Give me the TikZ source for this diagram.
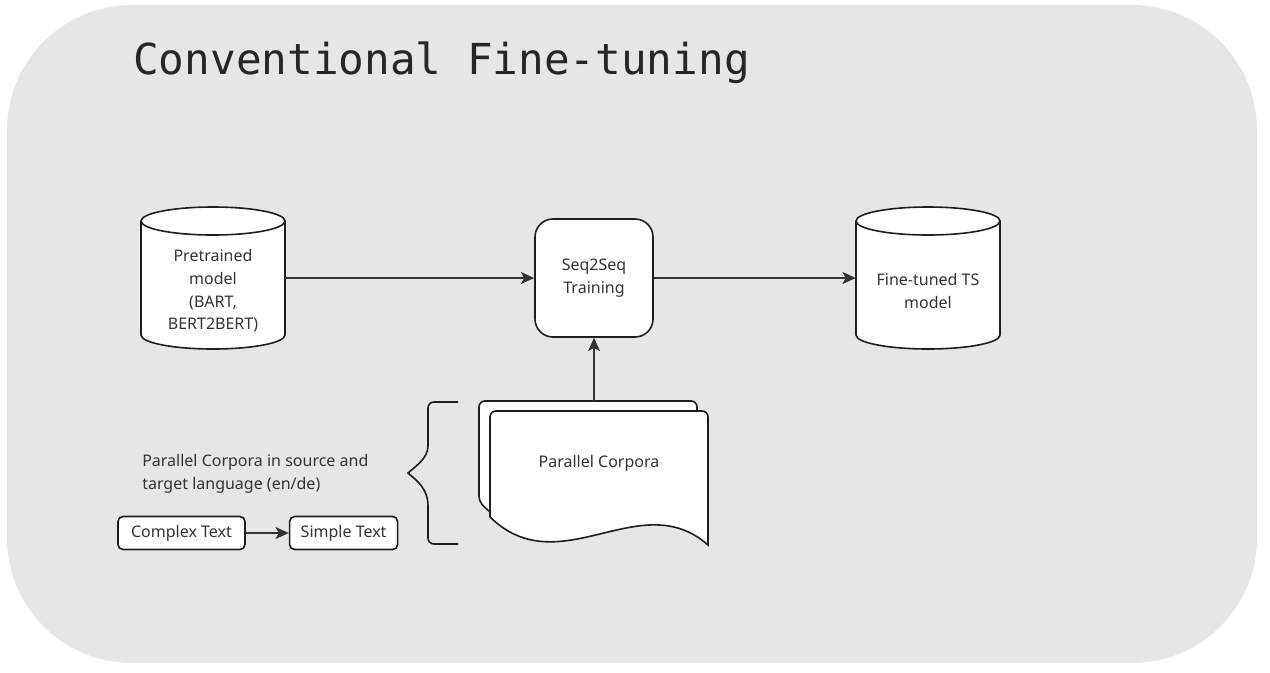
\documentclass[tikz,border=0pt]{standalone}
\usepackage{fontspec}
\setmainfont{Noto Sans}
\newfontfamily\titlefont{DejaVu Sans Mono}
\usetikzlibrary{arrows.meta,positioning}
\definecolor{panelgray}{HTML}{E6E6E6}
\definecolor{inkgray}{HTML}{333333}
\definecolor{edgegray}{HTML}{1E1E1E}

\tikzset{
  body/.style={font=\fontsize{12}{17}\selectfont, text=inkgray},
  dbnode/.style={minimum width=108pt, minimum height=106.5pt, inner sep=0pt},
  dblabel/.style={body, align=center, yshift=-9.75pt},
  trainbox/.style={body, draw=edgegray, fill=white, line width=1.2pt,
    rounded corners=13.5pt, minimum width=88.5pt, minimum height=88.5pt, align=center},
  textbox/.style={body, draw=edgegray, fill=white, line width=1.2pt,
    rounded corners=3.75pt, minimum height=24.75pt, inner xsep=0pt},
  docline/.style={draw=edgegray, fill=white, line width=1.2pt},
  flow/.style={-{Stealth[length=10pt,width=9pt,inset=2.5pt]}, line width=1.1pt, draw=inkgray},
}

% database cylinder round a centre given in px
\newcommand{\drawdb}[2]{%
  \draw[docline] ({#1-72},{#2-57}) -- ({#1-72},{#2+57})
    arc[start angle=180, end angle=360, x radius=54pt, y radius=10.5pt]
    -- ({#1+72},{#2-57})
    arc[start angle=0, end angle=180, x radius=54pt, y radius=10.5pt] -- cycle;
  \draw[docline, fill=none] ({#1-72},{#2-57})
    arc[start angle=180, end angle=360, x radius=54pt, y radius=10.5pt];}

\begin{document}
\begin{tikzpicture}[x=0.75pt,y=-0.75pt]
    \useasboundingbox (0,0) rectangle (1270,672);
    \fill[panelgray, rounded corners=93.75pt] (7,5) rectangle (1257,663);
    \node[anchor=base west, inner sep=0pt, text=black!85,
        font=\titlefont\fontsize{32}{38}\selectfont] (title) at (133,74) {Conventional Fine-tuning};

    % main row
    \drawdb{213}{278}
    \drawdb{928}{278}
    \node[dbnode, label={[dblabel]center:{Pretrained\\model\\(BART,\\BERT2BERT)}}] (pre) at (213,278) {};
    \node[trainbox] (train) at (594,278) {Seq2Seq\\Training};
    \node[dbnode, label={[dblabel]center:{Fine-tuned TS\\model}}] (tuned) at (928,278) {};
    \draw[flow] (pre) -- (train);
    \draw[flow] (train) -- (tuned);

    % stacked corpora
    \draw[docline, rounded corners=4.5pt] (490,512) -- (479,502) -- (479,401) -- (697,401) -- (697,420);
    \draw[docline] (490,517) [rounded corners=4.5pt] -- (490,411) -- (708,411) [sharp corners] -- (708,545)
        .. controls (640,485) and (560,585) .. cycle;
    \node[body] (corp) at (599,463) {Parallel Corpora};
    \coordinate (stacktop) at (594,401);
    \draw[flow] (stacktop) -- (train.south);

    % brace
    \draw[edgegray, line width=1.2pt, rounded corners=4.5pt] (458,402) -- (428,402) -- (428,440)
        [sharp corners] .. controls (428,458) and (416,466) .. (408,473)
        .. controls (416,480) and (428,488) .. (428,506) [rounded corners=4.5pt] -- (428,544) -- (458,544);

    % pair example
    \node[body, anchor=west, align=left, inner sep=0pt] (pairnote) at (142,474)
        {Parallel Corpora in source and\\target language (en/de)};
    \node[textbox, minimum width=95.25pt] (complex) at (181.5,533) {Complex Text};
    \node[textbox, minimum width=81pt, right = 32.25pt of complex] (simple) {Simple Text};
    \draw[flow] (complex) -- (simple);
\end{tikzpicture}
\end{document}
